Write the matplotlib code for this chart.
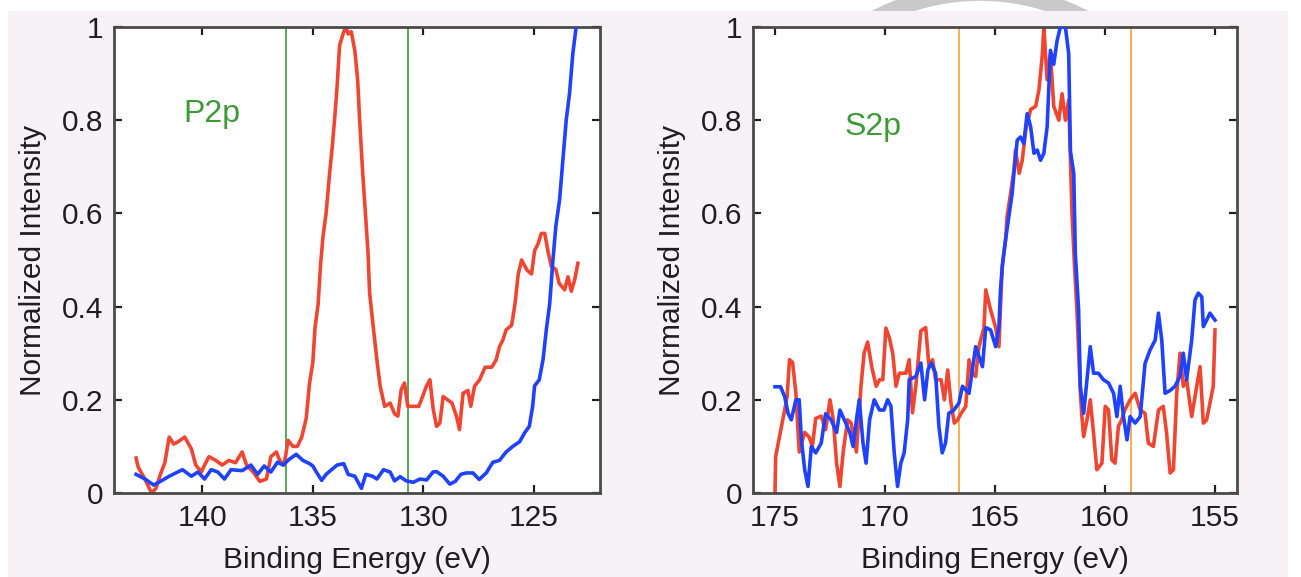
import matplotlib
matplotlib.use("Agg")
import matplotlib.pyplot as plt
from matplotlib.patches import Rectangle, Ellipse

plt.rcParams['font.family'] = ['Liberation Sans', 'DejaVu Sans']

# %% Data

# P2p panel
p_red_e = [143.0, 142.9, 142.6, 142.3, 142.1, 141.9, 141.7, 141.5, 141.3, 141.1,
           140.8, 140.5, 140.3, 140.05, 139.9, 139.7, 139.4, 139.1, 138.8, 138.5,
           138.2, 138.0, 137.7, 137.4, 137.1, 136.9, 136.65, 136.5, 136.3, 136.12,
           135.9, 135.7, 135.5, 135.3, 135.15, 135.0, 134.9, 134.76, 134.65, 134.54,
           134.4, 134.24, 134.12, 134.0, 133.9, 133.79, 133.6, 133.5, 133.4, 133.26,
           133.1, 132.97, 132.88, 132.75, 132.65, 132.5, 132.43, 132.25, 132.1, 131.95,
           131.75, 131.5, 131.3, 131.15, 131.0, 130.85, 130.7, 130.2, 129.85, 129.7,
           129.55, 129.4, 129.25, 129.1, 128.9, 128.7, 128.5, 128.36, 128.2, 127.98,
           127.85, 127.68, 127.45, 127.2, 126.9, 126.7, 126.55, 126.4, 126.25, 126.0,
           125.85, 125.7, 125.55, 125.3, 125.1, 124.96, 124.8, 124.66, 124.5, 124.36,
           124.2, 124.0, 123.85, 123.6, 123.45, 123.3, 123.15, 123.0]
p_red_v = [0.075, 0.055, 0.03, 0.0, 0.01, 0.04, 0.065, 0.12, 0.105, 0.11,
           0.12, 0.095, 0.06, 0.045, 0.06, 0.078, 0.07, 0.06, 0.07, 0.065,
           0.088, 0.06, 0.045, 0.025, 0.03, 0.078, 0.088, 0.07, 0.06, 0.113,
           0.1, 0.1, 0.12, 0.16, 0.235, 0.28, 0.355, 0.405, 0.49, 0.55,
           0.6, 0.686, 0.743, 0.81, 0.873, 0.96, 0.99, 1.0, 0.985, 0.99,
           0.95, 0.886, 0.8, 0.693, 0.622, 0.515, 0.43, 0.35, 0.286, 0.229,
           0.186, 0.193, 0.17, 0.165, 0.222, 0.236, 0.186, 0.186, 0.23, 0.243,
           0.18, 0.143, 0.15, 0.207, 0.2, 0.193, 0.165, 0.136, 0.214, 0.22,
           0.186, 0.229, 0.243, 0.27, 0.27, 0.286, 0.314, 0.328, 0.35, 0.36,
           0.405, 0.47, 0.5, 0.478, 0.47, 0.52, 0.535, 0.557, 0.557, 0.52,
           0.486, 0.48, 0.45, 0.436, 0.464, 0.433, 0.457, 0.493]

p_blue_e = [143.0, 142.6, 142.2, 141.9, 141.5, 140.9, 140.5, 140.2, 139.9, 139.6,
            139.3, 139.0, 138.7, 138.2, 137.8, 137.5, 137.2, 136.9, 136.6, 136.35,
            136.05, 135.75, 135.45, 135.15, 135.0, 134.84, 134.6, 134.4, 134.15, 133.9,
            133.6, 133.4, 133.1, 132.8, 132.6, 132.3, 132.1, 131.8, 131.5, 131.3,
            131.05, 130.77, 130.45, 130.15, 129.85, 129.56, 129.4, 129.1, 128.8, 128.55,
            128.3, 128.05, 127.75, 127.47, 127.15, 126.85, 126.55, 126.25, 125.95, 125.64,
            125.4, 125.2, 125.05, 124.96, 124.75, 124.58, 124.43, 124.28, 124.13, 124.0,
            123.83, 123.68, 123.53, 123.38, 123.23, 123.08, 123.0]
p_blue_v = [0.04, 0.03, 0.017, 0.025, 0.036, 0.05, 0.036, 0.045, 0.03, 0.05,
            0.045, 0.03, 0.05, 0.048, 0.06, 0.04, 0.058, 0.045, 0.066, 0.06,
            0.073, 0.083, 0.07, 0.063, 0.058, 0.045, 0.027, 0.04, 0.05, 0.06,
            0.063, 0.04, 0.036, 0.01, 0.04, 0.036, 0.03, 0.05, 0.045, 0.026,
            0.035, 0.026, 0.023, 0.03, 0.028, 0.045, 0.046, 0.036, 0.019, 0.025,
            0.04, 0.043, 0.043, 0.029, 0.043, 0.066, 0.07, 0.088, 0.1, 0.11,
            0.13, 0.143, 0.186, 0.23, 0.243, 0.286, 0.35, 0.405, 0.5, 0.572,
            0.629, 0.715, 0.8, 0.857, 0.943, 1.0, 1.03]

# S2p panel
s_red_e = [175.0, 174.97, 174.8, 174.56, 174.45, 174.34, 174.2, 174.05, 173.9, 173.65,
           173.45, 173.3, 173.15, 172.9, 172.7, 172.5, 172.35, 172.2, 172.05, 171.9,
           171.7, 171.54, 171.3, 171.09, 170.95, 170.79, 170.6, 170.4, 170.25, 170.1,
           169.96, 169.8, 169.65, 169.5, 169.35, 169.05, 168.9, 168.75, 168.6, 168.37,
           168.15, 168.0, 167.84, 167.7, 167.45, 167.3, 167.15, 167.0, 166.85, 166.7,
           166.55, 166.33, 166.18, 166.03, 165.88, 165.73, 165.5, 165.42, 165.2, 164.97,
           164.82, 164.75, 164.67, 164.6, 164.52, 164.45, 164.29, 164.14, 164.07, 163.9,
           163.76, 163.6, 163.38, 163.15, 163.0, 162.85, 162.78, 162.63, 162.48, 162.33,
           162.1, 161.95, 161.8, 161.65, 161.5, 161.4, 161.27, 161.12, 161.05, 160.97,
           160.82, 160.67, 160.52, 160.37, 160.14, 159.99, 159.84, 159.69, 159.54, 159.39,
           159.24, 159.1, 158.86, 158.63, 158.4, 158.18, 158.03, 157.8, 157.57, 157.35,
           157.2, 157.04, 156.89, 156.74, 156.59, 156.44, 156.29, 156.06, 155.83, 155.68,
           155.53, 155.38, 155.23, 155.08, 155.0]
s_red_v = [0.0, 0.078, 0.12, 0.178, 0.207, 0.286, 0.28, 0.214, 0.088, 0.13,
           0.12, 0.1, 0.16, 0.165, 0.136, 0.2, 0.157, 0.064, 0.014, 0.088,
           0.157, 0.15, 0.088, 0.23, 0.3, 0.324, 0.27, 0.229, 0.243, 0.243,
           0.354, 0.333, 0.3, 0.229, 0.257, 0.257, 0.286, 0.172, 0.229, 0.348,
           0.355, 0.271, 0.286, 0.243, 0.243, 0.2, 0.264, 0.193, 0.15, 0.157,
           0.17, 0.186, 0.286, 0.257, 0.25, 0.314, 0.355, 0.436, 0.393, 0.355,
           0.314, 0.4, 0.486, 0.515, 0.543, 0.594, 0.643, 0.693, 0.736, 0.686,
           0.714, 0.78, 0.823, 0.83, 0.866, 0.94, 1.0, 0.887, 0.943, 0.83,
           0.8, 0.857, 0.8, 0.843, 0.6, 0.5, 0.386, 0.214, 0.164, 0.121,
           0.157, 0.2, 0.128, 0.05, 0.064, 0.186, 0.178, 0.071, 0.064, 0.143,
           0.157, 0.178, 0.2, 0.214, 0.178, 0.171, 0.107, 0.1, 0.178, 0.186,
           0.128, 0.043, 0.05, 0.214, 0.3, 0.229, 0.243, 0.164, 0.229, 0.271,
           0.15, 0.157, 0.193, 0.229, 0.35]

s_blue_e = [175.0, 174.75, 174.56, 174.4, 174.26, 174.05, 173.9, 173.8, 173.65, 173.5,
            173.35, 173.15, 172.9, 172.7, 172.45, 172.2, 172.05, 171.85, 171.6, 171.45,
            171.3, 171.17, 171.0, 170.86, 170.7, 170.49, 170.25, 170.05, 169.88, 169.73,
            169.58, 169.43, 169.28, 169.13, 168.97, 168.9, 168.6, 168.37, 168.2, 168.05,
            167.9, 167.7, 167.55, 167.4, 167.25, 167.1, 166.87, 166.64, 166.48, 166.18,
            166.03, 165.88, 165.73, 165.57, 165.42, 165.2, 164.97, 164.82, 164.75, 164.67,
            164.52, 164.37, 164.22, 164.14, 163.99, 163.84, 163.69, 163.54, 163.38, 163.23,
            163.08, 162.93, 162.78, 162.63, 162.48, 162.33, 162.18, 162.03, 161.8, 161.65,
            161.57, 161.42, 161.35, 161.2, 161.12, 160.97, 160.82, 160.67, 160.52, 160.3,
            160.07, 159.84, 159.61, 159.46, 159.31, 159.16, 159.0, 158.86, 158.63, 158.4,
            158.18, 157.95, 157.72, 157.57, 157.42, 157.27, 157.04, 156.82, 156.59, 156.44,
            156.29, 156.06, 155.91, 155.76, 155.6, 155.53, 155.38, 155.23, 155.0]
s_blue_v = [0.228, 0.228, 0.207, 0.17, 0.157, 0.2, 0.2, 0.114, 0.05, 0.014,
            0.1, 0.086, 0.107, 0.17, 0.157, 0.13, 0.178, 0.157, 0.13, 0.1,
            0.157, 0.2, 0.107, 0.064, 0.157, 0.2, 0.178, 0.178, 0.2, 0.186,
            0.086, 0.014, 0.064, 0.086, 0.157, 0.243, 0.25, 0.279, 0.2, 0.264,
            0.279, 0.257, 0.143, 0.086, 0.107, 0.171, 0.178, 0.193, 0.229, 0.214,
            0.264, 0.314, 0.293, 0.271, 0.355, 0.35, 0.314, 0.357, 0.436, 0.486,
            0.543, 0.594, 0.643, 0.686, 0.757, 0.764, 0.75, 0.814, 0.786, 0.729,
            0.736, 0.714, 0.729, 0.786, 0.95, 0.92, 0.97, 1.0, 1.0, 0.943,
            0.733, 0.686, 0.514, 0.393, 0.229, 0.171, 0.243, 0.314, 0.257, 0.257,
            0.243, 0.236, 0.214, 0.164, 0.229, 0.164, 0.114, 0.164, 0.15, 0.164,
            0.278, 0.307, 0.328, 0.386, 0.328, 0.214, 0.22, 0.229, 0.25, 0.3,
            0.243, 0.328, 0.414, 0.429, 0.421, 0.357, 0.371, 0.386, 0.371]

p_marks = [136.2, 130.7]
s_marks = [166.65, 158.8]
p_ticks = [140, 135, 130, 125]
s_ticks = [175, 170, 165, 160, 155]
y_ticks = [0, 0.2, 0.4, 0.6, 0.8, 1]
y_labels = ["0", "0.2", "0.4", "0.6", "0.8", "1"]

red = "#ef4632"
blue = "#1f42ff"
green_txt = "#3d9a35"

# %% Figure

fig = plt.figure(figsize=(13.01, 5.77), dpi=100, facecolor="white")

# faint ring peeking out above the panel, then the pink panel
fig.patches.append(Ellipse((980 / 1301, 1 - 216 / 577), 2 * 223.5 / 1301, 2 * 223.5 / 577,
                           transform=fig.transFigure, fill=False, ec="#c9c9c9",
                           lw=12, zorder=-3))
fig.patches.append(Rectangle((8 / 1301, 0), 1280 / 1301, 1 - 11 / 577,
                             transform=fig.transFigure, fc="#f7f2f6", ec="none",
                             zorder=-2))

ax1 = fig.add_axes([114 / 1301, 84 / 577, 486 / 1301, 466 / 577])
ax2 = fig.add_axes([753 / 1301, 84 / 577, 484 / 1301, 466 / 577])


def style(ax, xlim, xticks):
    ax.set_xlim(*xlim)
    ax.set_ylim(0, 1)
    ax.set_xticks(xticks)
    ax.set_yticks(y_ticks)
    ax.set_yticklabels(y_labels)
    ax.tick_params(direction="in", top=True, right=True, length=6, width=1.6,
                   color="#202020", labelsize=21.5, labelcolor="#1e1e1e", pad=8)
    for sp in ax.spines.values():
        sp.set_color("#4a4a4a")
        sp.set_linewidth(2)
    ax.set_xlabel("Binding Energy (eV)", fontsize=21.5, color="#1e1e1e", labelpad=10)
    ax.set_ylabel("Normalized Intensity", fontsize=21.5, color="#1e1e1e", labelpad=10)


# P2p
for m in p_marks:
    ax1.axvline(m, color="#3a9a3a", lw=1.2, zorder=1)
ax1.plot(p_red_e, p_red_v, color=red, lw=2.6, zorder=2)
ax1.plot(p_blue_e, p_blue_v, color=blue, lw=2.6, zorder=3)
ax1.text(140.87, 0.797, "P2p", color=green_txt, fontsize=23, ha="left", va="baseline")
style(ax1, (144, 122), p_ticks)

# S2p
for m in s_marks:
    ax2.axvline(m, color="#f5a238", lw=1.2, zorder=1)
ax2.plot(s_red_e, s_red_v, color=red, lw=2.6, zorder=2)
ax2.plot(s_blue_e, s_blue_v, color=blue, lw=2.6, zorder=3)
ax2.text(171.85, 0.768, "S2p", color=green_txt, fontsize=23, ha="left", va="baseline")
style(ax2, (176, 154), s_ticks)

fig.savefig("out.png", dpi=100, facecolor=fig.get_facecolor())
